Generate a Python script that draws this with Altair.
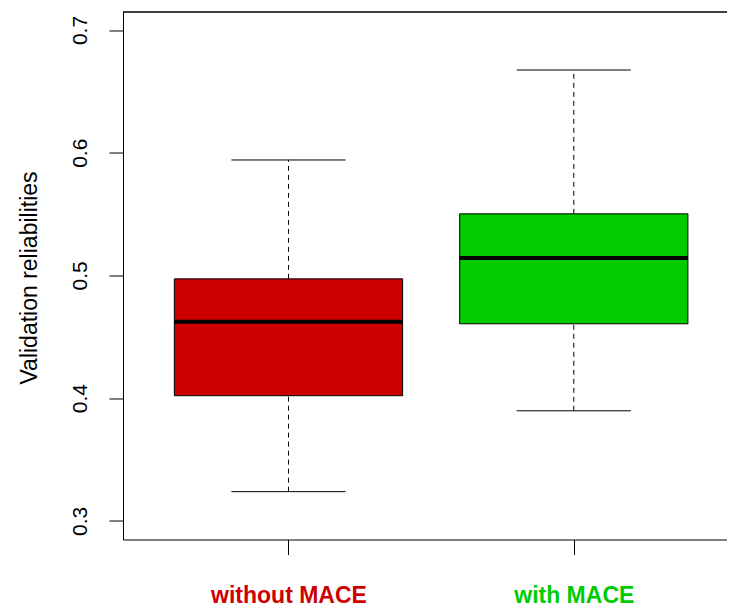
import altair as alt
import pandas as pd

groups = ["without MACE", "with MACE"]
colors = ["#CC0000", "#00CC00"]
lower = [0.3238, 0.3897]
q1 = [0.4020, 0.4606]
median = [0.4622, 0.5143]
q3 = [0.4972, 0.5502]
upper = [0.5941, 0.6674]
y_ticks = [0.3, 0.4, 0.5, 0.6, 0.7]
y_title = "Validation reliabilities"

df = pd.DataFrame({
    "group": groups,
    "pos": list(range(1, len(groups) + 1)),
    "lower": lower, "q1": q1, "median": median, "q3": q3, "upper": upper,
})

W, H = 604, 528
xs = alt.Scale(domain=[0.42, 2.537], nice=False, zero=False)
ys = alt.Scale(domain=[0.2848, 0.7151], nice=False, zero=False)

label_expr = " : ".join(
    f"datum.value == {i + 1} ? '{g}'" for i, g in enumerate(groups[:-1])
) + f" : '{groups[-1]}'"

x_axis = alt.Axis(
    values=list(range(1, len(groups) + 1)), labelExpr=label_expr, title=None,
    labelColor={"condition": {"test": "datum.value == 1", "value": colors[0]}, "value": colors[1]},
    labelFont="Liberation Sans", labelFontWeight="bold", labelFontSize=23,
    labelBaseline="alphabetic", labelPadding=48, tickSize=15, tickColor="black",
    domainColor="black", grid=False, labelAlign="center",
)
y_axis = alt.Axis(
    values=y_ticks, format=".1f", title=y_title, grid=False,
    labelAngle=270, labelAlign="center", labelBaseline="alphabetic", labelPadding=23,
    labelFont="Liberation Sans", labelFontSize=21, labelColor="black",
    tickSize=14, tickColor="black", domainColor="black",
    titleAngle=270, titleX=-87, titleY=266, titleAlign="center", titleBaseline="alphabetic",
    titleFont="Liberation Sans", titleFontSize=23, titleFontWeight="normal", titleColor="black",
)

base = alt.Chart(df).transform_calculate(
    b0="datum.pos - 0.4", b1="datum.pos + 0.4",
    c0="datum.pos - 0.2", c1="datum.pos + 0.2",
)


def X(f):
    return alt.X(f, scale=xs, axis=x_axis)


def Y(f):
    return alt.Y(f, scale=ys, axis=y_axis)


whisk_hi = base.mark_rule(color="black", strokeWidth=1, strokeDash=[5, 4]).encode(
    x=X("pos:Q"), y=Y("q3:Q"), y2="upper:Q")
whisk_lo = base.mark_rule(color="black", strokeWidth=1, strokeDash=[5, 4]).encode(
    x=X("pos:Q"), y=Y("lower:Q"), y2="q1:Q")
cap_hi = base.mark_rule(color="black", strokeWidth=1).encode(
    x=X("c0:Q"), x2="c1:Q", y=Y("upper:Q"))
cap_lo = base.mark_rule(color="black", strokeWidth=1).encode(
    x=X("c0:Q"), x2="c1:Q", y=Y("lower:Q"))
box = base.mark_rect(stroke="black", strokeWidth=1, opacity=1).encode(
    x=X("b0:Q"), x2="b1:Q", y=Y("q1:Q"), y2="q3:Q",
    color=alt.Color("group:N", scale=alt.Scale(domain=groups, range=colors), legend=None),
)
med = base.mark_rule(color="black", strokeWidth=4).encode(
    x=X("b0:Q"), x2="b1:Q", y=Y("median:Q"))
top = alt.Chart(df).mark_rule(color="black", strokeWidth=1).encode(
    x=alt.value(0), x2=alt.value(W), y=alt.value(0.5))

chart = alt.layer(whisk_hi, whisk_lo, cap_hi, cap_lo, box, med, top).properties(
    width=W, height=H,
    autosize=alt.AutoSizeParams(type="none"),
    padding={"left": 115, "top": 3.5, "right": 0, "bottom": 72},
    background="white",
).configure_view(stroke=None)

chart.save("out.html", embed_options={"renderer": "svg", "actions": False})
